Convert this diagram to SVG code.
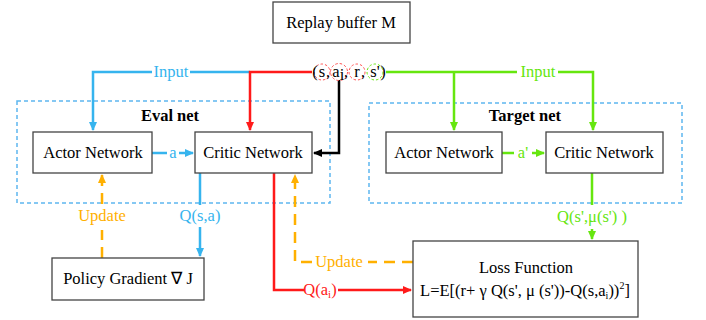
<svg xmlns="http://www.w3.org/2000/svg" width="706" height="320" viewBox="0 0 706 320">
<style>
text{font-family:"Liberation Serif","Times New Roman",serif;font-size:16.5px;text-anchor:middle}
.box{fill:#fff;stroke:#444;stroke-width:1.3}
.grp{fill:none;stroke:#5db6f0;stroke-width:1.5;stroke-dasharray:4 3}
.b{stroke:#36b4ee;fill:none;stroke-width:2.5}
.r{stroke:#ff1a1a;fill:none;stroke-width:2.5}
.g{stroke:#66e60f;fill:none;stroke-width:2.5}
.k{stroke:#000;fill:none;stroke-width:2.5}
.o{stroke:#ffb000;fill:none;stroke-width:2.5;stroke-dasharray:11 7}
.tb{fill:#36b4ee}.tr{fill:#ff1a1a}.tg{fill:#66e60f}.to{fill:#ffb000}
.bold{font-weight:bold}
.cr{fill:none;stroke:#ff5050;stroke-width:1;stroke-dasharray:2.5 2}
.cg{fill:none;stroke:#66e60f;stroke-width:1;stroke-dasharray:2.5 2}
</style>
<defs>
<marker id="ab" markerWidth="10" markerHeight="10" refX="8" refY="4" orient="auto" markerUnits="userSpaceOnUse"><path d="M0,0L9,4L0,8z" fill="#36b4ee"/></marker>
<marker id="ar" markerWidth="10" markerHeight="10" refX="8" refY="4" orient="auto" markerUnits="userSpaceOnUse"><path d="M0,0L9,4L0,8z" fill="#ff1a1a"/></marker>
<marker id="ag" markerWidth="10" markerHeight="10" refX="8" refY="4" orient="auto" markerUnits="userSpaceOnUse"><path d="M0,0L9,4L0,8z" fill="#66e60f"/></marker>
<marker id="ak" markerWidth="10" markerHeight="10" refX="8" refY="4" orient="auto" markerUnits="userSpaceOnUse"><path d="M0,0L9,4L0,8z" fill="#000"/></marker>
<marker id="ao" markerWidth="10" markerHeight="10" refX="8" refY="4" orient="auto" markerUnits="userSpaceOnUse"><path d="M0,0L9,4L0,8z" fill="#ffb000"/></marker>
</defs>

<g id="eval-net"><rect class="grp" x="17" y="101" width="313" height="102"/><text class="bold" x="170" y="121">Eval net</text></g>
<g id="target-net"><rect class="grp" x="369" y="103" width="313" height="100"/><text class="bold" x="525" y="121">Target net</text></g>

<g id="connectors">
<path class="b" d="M250,72H190M152,72H93V130" marker-end="url(#ab)"/>
<text class="tb" x="171" y="77">Input</text>
<path class="r" d="M312,72H250V130" marker-end="url(#ar)"/>
<path class="k" d="M339,80V153H314" marker-end="url(#ak)"/>
<path class="g" d="M386,72H517M558,72H593V130" marker-end="url(#ag)"/>
<path class="g" d="M454,72V130" marker-end="url(#ag)"/>
<text class="tg" x="538" y="77">Input</text>
<path class="b" d="M152,153H167M179,153H193" marker-end="url(#ab)"/>
<text class="tb" x="173" y="158">a</text>
<path class="g" d="M502,153H514M532,153H544" marker-end="url(#ag)"/>
<text class="tg" x="523" y="158">a'</text>
<path class="b" d="M200,173V205M200,227V256" marker-end="url(#ab)"/>
<text class="tb" x="200" y="221">Q(s,a)</text>
<path class="o" d="M102,258V230"/>
<path class="o" d="M102,204V175" marker-end="url(#ao)"/>
<text class="to" x="102" y="221">Update</text>
<path class="r" d="M274,173V290H304M338,290H411" marker-end="url(#ar)"/>
<text class="tr" x="320" y="295">Q(a<tspan font-size="11" dy="3">i</tspan><tspan dy="-3">)</tspan></text>
<path class="o" d="M413,262H368"/>
<path class="o" d="M312,262H295V175" marker-end="url(#ao)"/>
<text class="to" x="339" y="267">Update</text>
<path class="g" d="M592,173V205M592,229V239" marker-end="url(#ag)"/>
<text class="tg" x="592" y="222">Q(s',μ(s') )</text>
</g>

<g id="replay-buffer"><rect class="box" x="273" y="2" width="137" height="41"/><text x="341" y="28">Replay buffer M</text></g>

<g id="tuple">
<circle class="cr" cx="322" cy="72" r="8"/>
<circle class="cr" cx="339" cy="72" r="8.5"/>
<circle class="cr" cx="357" cy="72" r="8"/>
<circle class="cg" cx="375" cy="72" r="8"/>
<text x="315" y="77">(</text>
<text x="322" y="77">s</text>
<text x="328" y="77">,</text>
<text x="336" y="77">a</text>
<text x="342" y="80" font-size="10">i</text>
<text x="346" y="77">,</text>
<text x="357" y="77">r</text>
<text x="363" y="77">,</text>
<text x="375" y="77">s'</text>
<text x="383" y="77">)</text>
</g>

<g id="eval-actor"><rect class="box" x="33" y="132" width="119" height="41"/><text x="93" y="158">Actor Network</text></g>
<g id="eval-critic"><rect class="box" x="195" y="132" width="117" height="41"/><text x="253" y="158">Critic Network</text></g>
<g id="target-actor"><rect class="box" x="386" y="132" width="116" height="41"/><text x="444" y="158">Actor Network</text></g>
<g id="target-critic"><rect class="box" x="546" y="132" width="117" height="41"/><text x="604" y="158">Critic Network</text></g>
<g id="policy-gradient"><rect class="box" x="52" y="258" width="152" height="42"/><text x="128" y="284">Policy Gradient ∇ J</text></g>
<g id="loss-function"><rect class="box" x="413" y="241" width="225" height="76"/>
<text x="526" y="273">Loss Function</text>
<text x="525" y="296">L=E[(r+ γ Q(s', μ (s'))-Q(s,a<tspan font-size="10" dy="3">i</tspan><tspan dy="-3">))</tspan><tspan font-size="10" dy="-7">2</tspan><tspan dy="7">]</tspan></text>
</g>
</svg>
